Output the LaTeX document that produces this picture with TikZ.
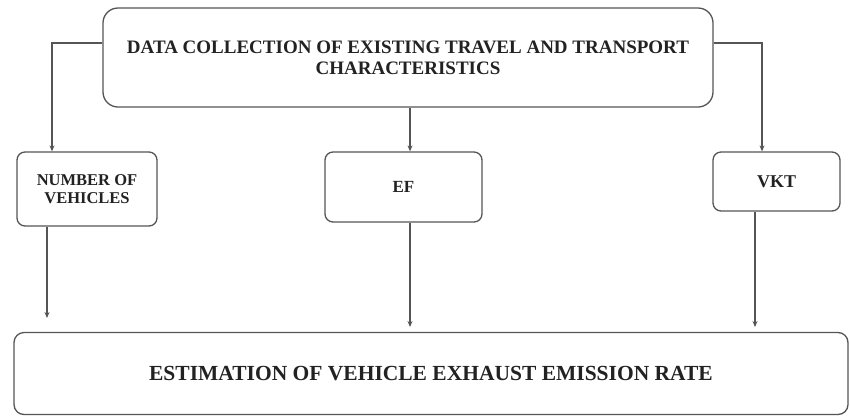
\documentclass[tikz,border=0pt]{standalone}
\usepackage{fontspec}
\setmainfont{Liberation Serif}
\usetikzlibrary{arrows.meta}
\definecolor{ln}{HTML}{555555}
\definecolor{tx}{HTML}{222222}
\tikzset{
  box/.style={draw=ln, line width=1.3pt, fill=white, text=tx, font=\bfseries, align=center, inner sep=0pt},
  conn/.style={draw=ln, line width=1.1pt, -{Stealth[length=6pt,width=5pt]}},
}
\begin{document}
\begin{tikzpicture}[x=1pt,y=-1pt]
\useasboundingbox (0,0) rectangle (850,416);
% top box
\node[box, rounded corners=15pt, minimum width=610pt, minimum height=99pt, font=\bfseries\fontsize{19}{21}\selectfont] (top) at (408,57.5)
  {DATA COLLECTION OF EXISTING TRAVEL AND TRANSPORT\\CHARACTERISTICS};
\node[box, rounded corners=8pt, minimum width=140pt, minimum height=74pt, font=\bfseries\fontsize{16.5}{18}\selectfont] (nov) at (87,189) {NUMBER OF\\VEHICLES};
\node[box, rounded corners=8pt, minimum width=157pt, minimum height=70pt, font=\bfseries\fontsize{17}{18}\selectfont] (ef) at (403.5,187) {EF};
\node[box, rounded corners=8pt, minimum width=127pt, minimum height=59pt, font=\bfseries\fontsize{18}{18}\selectfont] (vkt) at (776.5,181.5) {VKT};
\node[box, rounded corners=10pt, minimum width=834pt, minimum height=82pt, font=\bfseries\fontsize{21.5}{24}\selectfont] (bot) at (431,373.5) {ESTIMATION OF VEHICLE EXHAUST EMISSION RATE};
% coordinates for free ends
\coordinate (l1) at (52,43);
\coordinate (r1) at (762,43);
\coordinate (a1) at (47,318);
\coordinate (a2) at (410,327);
\coordinate (a3) at (755,327);
% connectors
\draw[conn] (top.west |- l1) -- (l1) -- (l1 |- nov.north);
\draw[conn] (top.east |- r1) -- (r1) -- (r1 |- vkt.north);
\draw[conn] (top.south -| a2) -- (a2 |- ef.north);
\draw[conn] (nov.south -| a1) -- (a1);
\draw[conn] (ef.south -| a2) -- (a2);
\draw[conn] (vkt.south -| a3) -- ++(0,6) -- (a3);
\end{tikzpicture}
\end{document}
